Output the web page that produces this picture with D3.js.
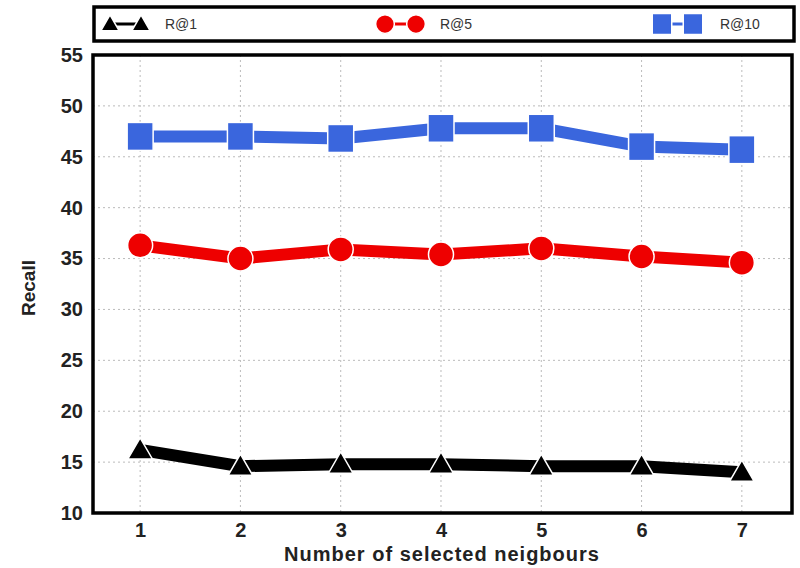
<!DOCTYPE html>
<html>
<head>
<meta charset="utf-8">
<script src="https://cdn.jsdelivr.net/npm/d3@7"></script>
<style>
  body { margin: 0; background: #fff; }
  text { font-family: "Liberation Sans", Arial, sans-serif; }
</style>
</head>
<body>
<svg id="chart" width="800" height="568"></svg>
<script>
// data
var neighbours = [1, 2, 3, 4, 5, 6, 7];
var r1  = [16.2, 14.6, 14.8, 14.8, 14.6, 14.6, 14.0];
var r5  = [36.3, 35.0, 35.9, 35.4, 36.0, 35.2, 34.6];
var r10 = [47.0, 47.0, 46.8, 47.8, 47.8, 46.0, 45.7];
var yTicks = [10, 15, 20, 25, 30, 35, 40, 45, 50, 55];

var series = [
    {name: "R@1",  values: r1,  color: "#000000", shape: "triangle"},
    {name: "R@5",  values: r5,  color: "#ee0000", shape: "circle"},
    {name: "R@10", values: r10, color: "#3a66dd", shape: "square"}
];

var svg = d3.select("#chart");
var plotL = 93, plotR = 792, plotT = 55, plotB = 513;

var x = d3.scaleLinear().domain([0.53, 7.5]).range([plotL, plotR]);
var y = d3.scaleLinear().domain([10, 55]).range([plotB, plotT]);

// grid
var grid = svg.append("g");
grid.selectAll("line.h").data(yTicks.slice(1, -1)).enter().append("line")
    .attr("x1", plotL).attr("x2", plotR)
    .attr("y1", function (d) { return y(d); })
    .attr("y2", function (d) { return y(d); })
    .attr("stroke", "#bbb").attr("stroke-width", 1)
    .attr("stroke-dasharray", "2,3");
grid.selectAll("line.v").data(neighbours).enter().append("line")
    .attr("y1", plotT).attr("y2", plotB)
    .attr("x1", function (d) { return x(d); })
    .attr("x2", function (d) { return x(d); })
    .attr("stroke", "#bbb").attr("stroke-width", 1)
    .attr("stroke-dasharray", "2,3");

// axes
var xAxis = d3.axisBottom(x).tickValues(neighbours).tickFormat(d3.format("d"))
    .tickSize(0).tickPadding(10);
var yAxis = d3.axisLeft(y).tickValues(yTicks).tickFormat(d3.format("d"))
    .tickSize(0).tickPadding(10);

var gx = svg.append("g").attr("transform", "translate(0," + plotB + ")").call(xAxis);
var gy = svg.append("g").attr("transform", "translate(" + plotL + ",0)").call(yAxis);
[gx, gy].forEach(function (g) {
    g.select(".domain").remove();
    g.selectAll("text")
        .style("font-size", "20px")
        .style("font-weight", "bold")
        .style("font-family", "'Liberation Sans', Arial, sans-serif")
        .attr("fill", "#222");
});

// frame
svg.append("rect")
    .attr("x", plotL).attr("y", plotT)
    .attr("width", plotR - plotL).attr("height", plotB - plotT)
    .attr("fill", "none").attr("stroke", "#000").attr("stroke-width", 3.5);

var line = d3.line()
    .x(function (d, i) { return x(neighbours[i]); })
    .y(function (d) { return y(d); });

function drawMarker(g, shape, color, cx, cy, k) {
    k = k || 1;
    if (shape === "square") {
        g.append("rect").attr("x", cx - 13 * k).attr("y", cy - 14 * k)
            .attr("width", 26 * k).attr("height", 28 * k).attr("fill", color)
            .attr("stroke", "#fff").attr("stroke-width", 1.5);
    } else if (shape === "circle") {
        g.append("circle").attr("cx", cx).attr("cy", cy).attr("r", 12.5 * k)
            .attr("fill", color).attr("stroke", "#fff").attr("stroke-width", 1.5);
    } else {
        g.append("path")
            .attr("d", d3.symbol().type(d3.symbolTriangle).size(260 * k * k)())
            .attr("transform", "translate(" + cx + "," + (cy + 2 * k) + ")")
            .attr("fill", color).attr("stroke", "#fff").attr("stroke-width", 1.5);
    }
}

series.forEach(function (s) {
    var g = svg.append("g");
    g.append("path").datum(s.values)
        .attr("d", line)
        .attr("fill", "none")
        .attr("stroke", s.color)
        .attr("stroke-width", 12);
    s.values.forEach(function (v, i) {
        drawMarker(g, s.shape, s.color, x(neighbours[i]), y(v));
    });
});

// legend
svg.append("rect")
    .attr("x", 94).attr("y", 7).attr("width", 700).attr("height", 34)
    .attr("fill", "#fff").attr("stroke", "#000").attr("stroke-width", 3.5);

var legendX = [110, 385, 662];
var legendText = [165, 440, 720];
series.forEach(function (s, i) {
    var g = svg.append("g");
    var lx = legendX[i], ly = 24;
    g.append("line").attr("x1", lx).attr("x2", lx + 31)
        .attr("y1", ly).attr("y2", ly)
        .attr("stroke", s.color).attr("stroke-width", 3);
    drawMarker(g, s.shape, s.color, lx, ly, 0.75);
    drawMarker(g, s.shape, s.color, lx + 31, ly, 0.75);
    g.append("text").attr("x", legendText[i]).attr("y", ly + 5)
        .text(s.name)
        .style("font-size", "14px")
        .attr("fill", "#333");
});

// axis titles
svg.append("text")
    .attr("x", 442).attr("y", 561)
    .attr("text-anchor", "middle")
    .style("font-size", "20px").style("font-weight", "bold")
    .style("letter-spacing", "1px")
    .attr("fill", "#222")
    .text("Number of selected neigbours");

svg.append("text")
    .attr("transform", "translate(35,288) rotate(-90)")
    .attr("text-anchor", "middle")
    .style("font-size", "19px").style("font-weight", "bold")
    .attr("fill", "#222")
    .text("Recall");
</script>
</body>
</html>
